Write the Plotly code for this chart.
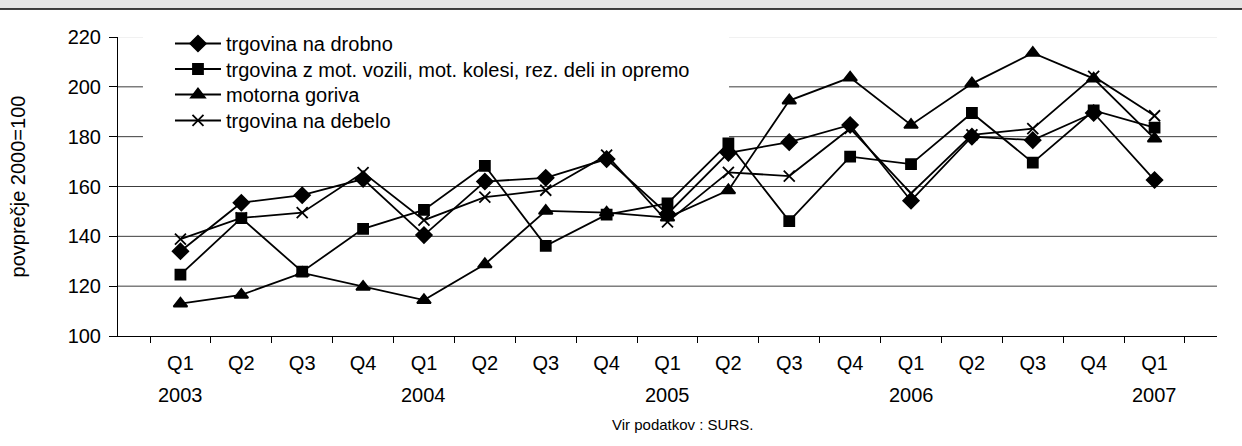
import plotly.graph_objects as go

# quarters 2003 Q1 .. 2007 Q1
quarters = ["Q1", "Q2", "Q3", "Q4"] * 4 + ["Q1"]
periods = [f"{q} {2003 + i // 4}" for i, q in enumerate(quarters)]
years = {"Q1 2003": "2003", "Q1 2004": "2004", "Q1 2005": "2005",
         "Q1 2006": "2006", "Q1 2007": "2007"}

drobno = [134, 153.5, 156.5, 163, 140.5, 162, 163.5, 171, 149, 173.5, 177.8, 184.7,
          154.3, 180, 178.6, 189.5, 162.6]
vozila = [124.6, 147.3, 125.8, 143, 150.6, 168.3, 136.2, 148.7, 153.2, 177.3, 146.1, 172,
          169, 189.5, 169.6, 190.5, 183.6]
goriva = [113, 116.5, 125.3, 119.7, 114.4, 128.8, 150.2, 149.5, 147.5, 158.5, 194.5, 203.7,
          184.7, 201.3, 213.6, 203.3, 179.2]
debelo = [138.9, 147.4, 149.5, 165.6, 146.5, 155.7, 158.5, 172.6, 145.8, 165.7, 164.2, 183.3,
          157.2, 180.7, 183.2, 204.2, 188.4]

series = [
    ("trgovina na drobno", drobno, "diamond", 12),
    ("trgovina z mot. vozili, mot. kolesi, rez. deli in opremo", vozila, "square", 10),
    ("motorna goriva", goriva, "triangle-up", 12),
    ("trgovina na debelo", debelo, "x-thin-open", 11),
]

FONT = "Liberation Sans, Arial, sans-serif"

fig = go.Figure()
legend_ids = ["legend", "legend2", "legend3", "legend4"]
for (name, vals, sym, size), lg in zip(series, legend_ids):
    fig.add_trace(go.Scatter(
        x=periods, y=vals, name=name, mode="lines+markers", legend=lg,
        line=dict(color="black", width=1.8),
        marker=dict(symbol=sym, size=size, color="black",
                    line=dict(color="black", width=1.8)),
    ))

# gridlines as shapes so the top one can be light
shapes = []
for v in [120, 140, 160, 180, 200]:
    shapes.append(dict(type="line", xref="paper", yref="y", x0=0, x1=1, y0=v, y1=v,
                       line=dict(color="#3c3c3c", width=1), layer="below"))
shapes.append(dict(type="line", xref="paper", yref="y", x0=0, x1=1, y0=220, y1=220,
                   line=dict(color="#e4e4e4", width=1), layer="below"))
# white box behind the legend (hides gridlines there)
shapes.append(dict(type="rect", xref="paper", yref="y", x0=0.0227, x1=0.556, y0=170, y1=222,
                   fillcolor="white", line=dict(width=0), layer="below"))
# grey band at the top of the picture
shapes.append(dict(type="rect", xref="paper", yref="paper", x0=-0.11, x1=1.03,
                   y0=1.0936, y1=1.13, fillcolor="#e4e4e4", line=dict(width=0)))
shapes.append(dict(type="line", xref="paper", yref="paper", x0=-0.11, x1=1.03,
                   y0=1.0936, y1=1.0936, line=dict(color="black", width=1.5)))

annotations = []
for p, yr in years.items():
    annotations.append(dict(x=p, y=0, xref="x", yref="paper", yshift=-59, yanchor="middle",
                            text=yr, showarrow=False,
                            font=dict(size=20, family=FONT, color="black")))
annotations.append(dict(x=0.514, y=0, xref="paper", yref="paper", yshift=-88, yanchor="middle",
                        text="Vir podatkov : SURS.", showarrow=False,
                        font=dict(size=15, family=FONT, color="black")))

legend_tops = [1.0435, 0.9582, 0.8729, 0.7860]
legend_style = dict(x=0.0473, xanchor="left", yanchor="top", bgcolor="rgba(0,0,0,0)",
                    font=dict(size=20, family=FONT), itemwidth=46)

fig.update_layout(
    width=1242, height=446,
    margin=dict(l=118, r=25, t=37, b=110),
    paper_bgcolor="white", plot_bgcolor="white",
    font=dict(family=FONT, size=20, color="black"),
    showlegend=True,
    shapes=shapes,
    annotations=annotations,
    xaxis=dict(
        tickmode="array", tickvals=periods, ticktext=quarters,
        showline=True, linecolor="black", linewidth=1,
        ticks="outside", tickson="boundaries", ticklen=6, tickcolor="black",
        showgrid=False, zeroline=False, ticklabelstandoff=9,
        tickfont=dict(size=20),
    ),
    yaxis=dict(
        title=dict(text="povprečje 2000=100", font=dict(size=20), standoff=36),
        range=[100, 220], tickvals=[100, 120, 140, 160, 180, 200, 220],
        showline=True, linecolor="black", linewidth=1,
        ticks="outside", ticklen=8, tickcolor="black", ticklabelstandoff=4,
        showgrid=False, zeroline=False, tickfont=dict(size=20),
    ),
)
for lg, top in zip(legend_ids, legend_tops):
    fig.update_layout({lg: dict(legend_style, y=top)})

fig.write_html("out.html", config={"displayModeBar": False},
               post_script="document.body.style.margin='0';")
